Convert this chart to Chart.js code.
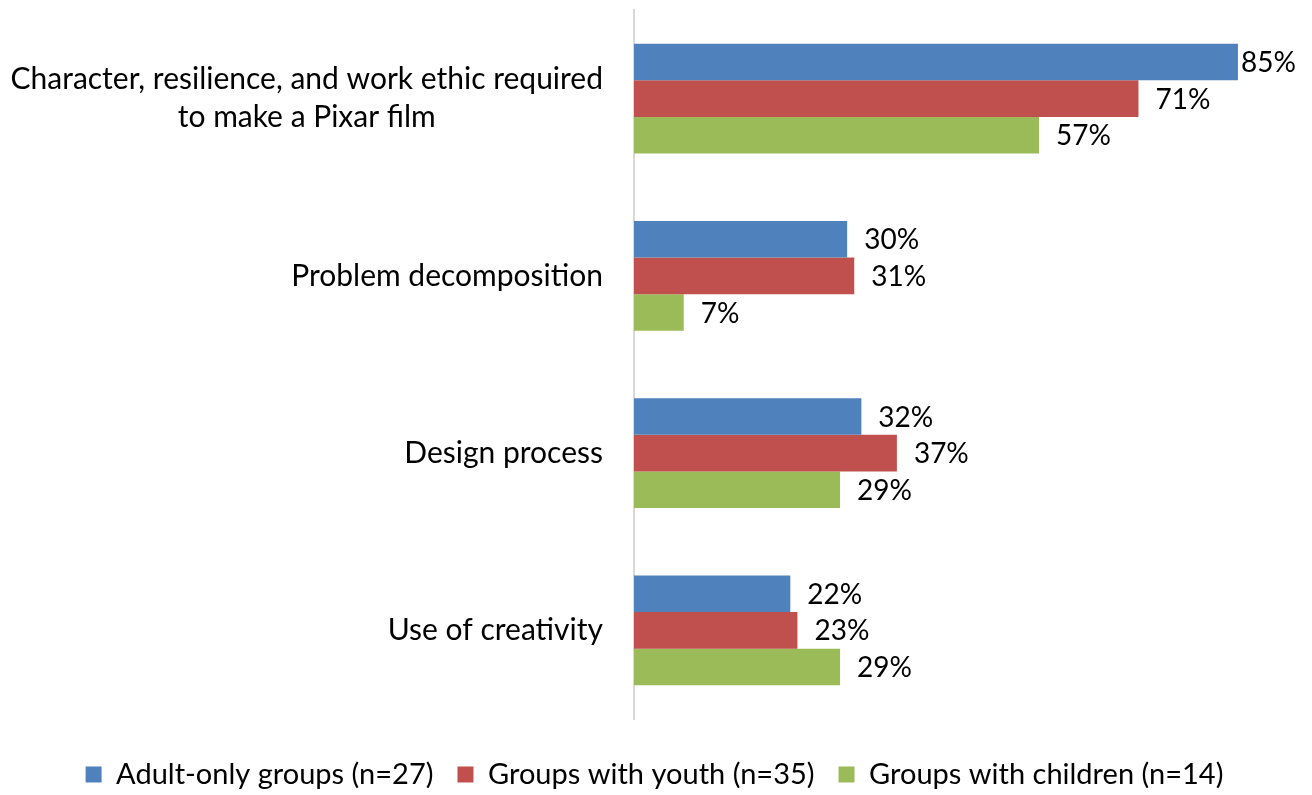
<!DOCTYPE html>
<html>
<head>
<meta charset="utf-8">
<script src="https://cdn.jsdelivr.net/npm/chart.js@4"></script>
<style>
  html, body { margin: 0; padding: 0; background: #ffffff; }
  #wrap { width: 1312px; height: 795px; }
</style>
</head>
<body>
<div id="wrap"><canvas id="c" width="1312" height="795"></canvas></div>
<script>
// Categories (top to bottom) and the share of each group type
const categories = [
  ["Character, resilience, and work ethic required", "to make a Pixar film"],
  "Problem decomposition",
  "Design process",
  "Use of creativity"
];
const seriesNames = [
  "Adult-only groups (n=27)",
  "Groups with youth (n=35)",
  "Groups with children (n=14)"
];
const adultOnly = [85, 30, 32, 22];
const withYouth = [71, 31, 37, 23];
const withChildren = [57, 7, 29, 29];
const seriesColors = ["#4F81BD", "#C0504D", "#9BBB59"];

const FONT = "Lato, 'Open Sans', sans-serif";

// Percentage labels placed just past the end of each bar
const valueLabels = {
  id: 'valueLabels',
  afterDatasetsDraw(chart) {
    const ctx = chart.ctx;
    ctx.save();
    ctx.font = "28px " + FONT;
    ctx.fillStyle = "#000000";
    ctx.textBaseline = "middle";
    ctx.textAlign = "left";
    chart.data.datasets.forEach((ds, di) => {
      const meta = chart.getDatasetMeta(di);
      meta.data.forEach((bar, i) => {
        const txt = ds.data[i] + "%";
        const w = ctx.measureText(txt).width;
        let x = bar.x + 17;
        const maxX = chart.width - 17 - w;
        if (x > maxX) x = Math.max(bar.x + 3, maxX);
        ctx.fillText(txt, x, bar.y + 1);
      });
    });
    ctx.restore();
  }
};

// Category names to the left of the axis; a two-line name is centred line by line
const categoryLabels = {
  id: 'categoryLabels',
  afterDraw(chart) {
    const ctx = chart.ctx;
    const yScale = chart.scales.y;
    const right = chart.chartArea.left - 31;
    const lineH = 38;
    ctx.save();
    ctx.font = "30px " + FONT;
    ctx.fillStyle = "#000000";
    ctx.textBaseline = "middle";
    categories.forEach((lab, i) => {
      const lines = Array.isArray(lab) ? lab : [lab];
      const yc = yScale.getPixelForTick(i);
      const maxW = Math.max(...lines.map(l => ctx.measureText(l).width));
      const multi = lines.length > 1;
      ctx.textAlign = multi ? "center" : "right";
      lines.forEach((l, k) => {
        const y = yc + (k - (lines.length - 1) / 2) * lineH;
        ctx.fillText(l, multi ? right - maxW / 2 : right, y);
      });
    });
    ctx.restore();
  }
};

const datasets = [adultOnly, withYouth, withChildren].map((vals, i) => ({
  label: seriesNames[i],
  data: vals,
  backgroundColor: seriesColors[i],
  borderWidth: 0,
  categoryPercentage: 0.62,
  barPercentage: 1.0
}));

new Chart(document.getElementById('c'), {
  type: 'bar',
  data: { labels: categories, datasets },
  options: {
    indexAxis: 'y',
    responsive: false,
    animation: false,
    devicePixelRatio: 1,
    layout: { padding: { left: 0, right: 3, top: 10, bottom: -4 } },
    scales: {
      x: {
        min: 0, max: 95,
        ticks: { display: false },
        grid: { display: false },
        border: { display: false },
        afterFit(scale) { scale.height = 17; }
      },
      y: {
        ticks: { display: false },
        grid: { display: false },
        border: { display: true, color: "#D9D9D9", width: 2 },
        afterFit(scale) { scale.width = 634; }
      }
    },
    plugins: {
      legend: {
        position: 'bottom',
        labels: {
          font: { family: FONT, size: 29 },
          color: "#000000",
          boxWidth: 16,
          boxHeight: 16,
          padding: 24
        }
      },
      tooltip: { enabled: false }
    }
  },
  plugins: [valueLabels, categoryLabels]
});
</script>
</body>
</html>
